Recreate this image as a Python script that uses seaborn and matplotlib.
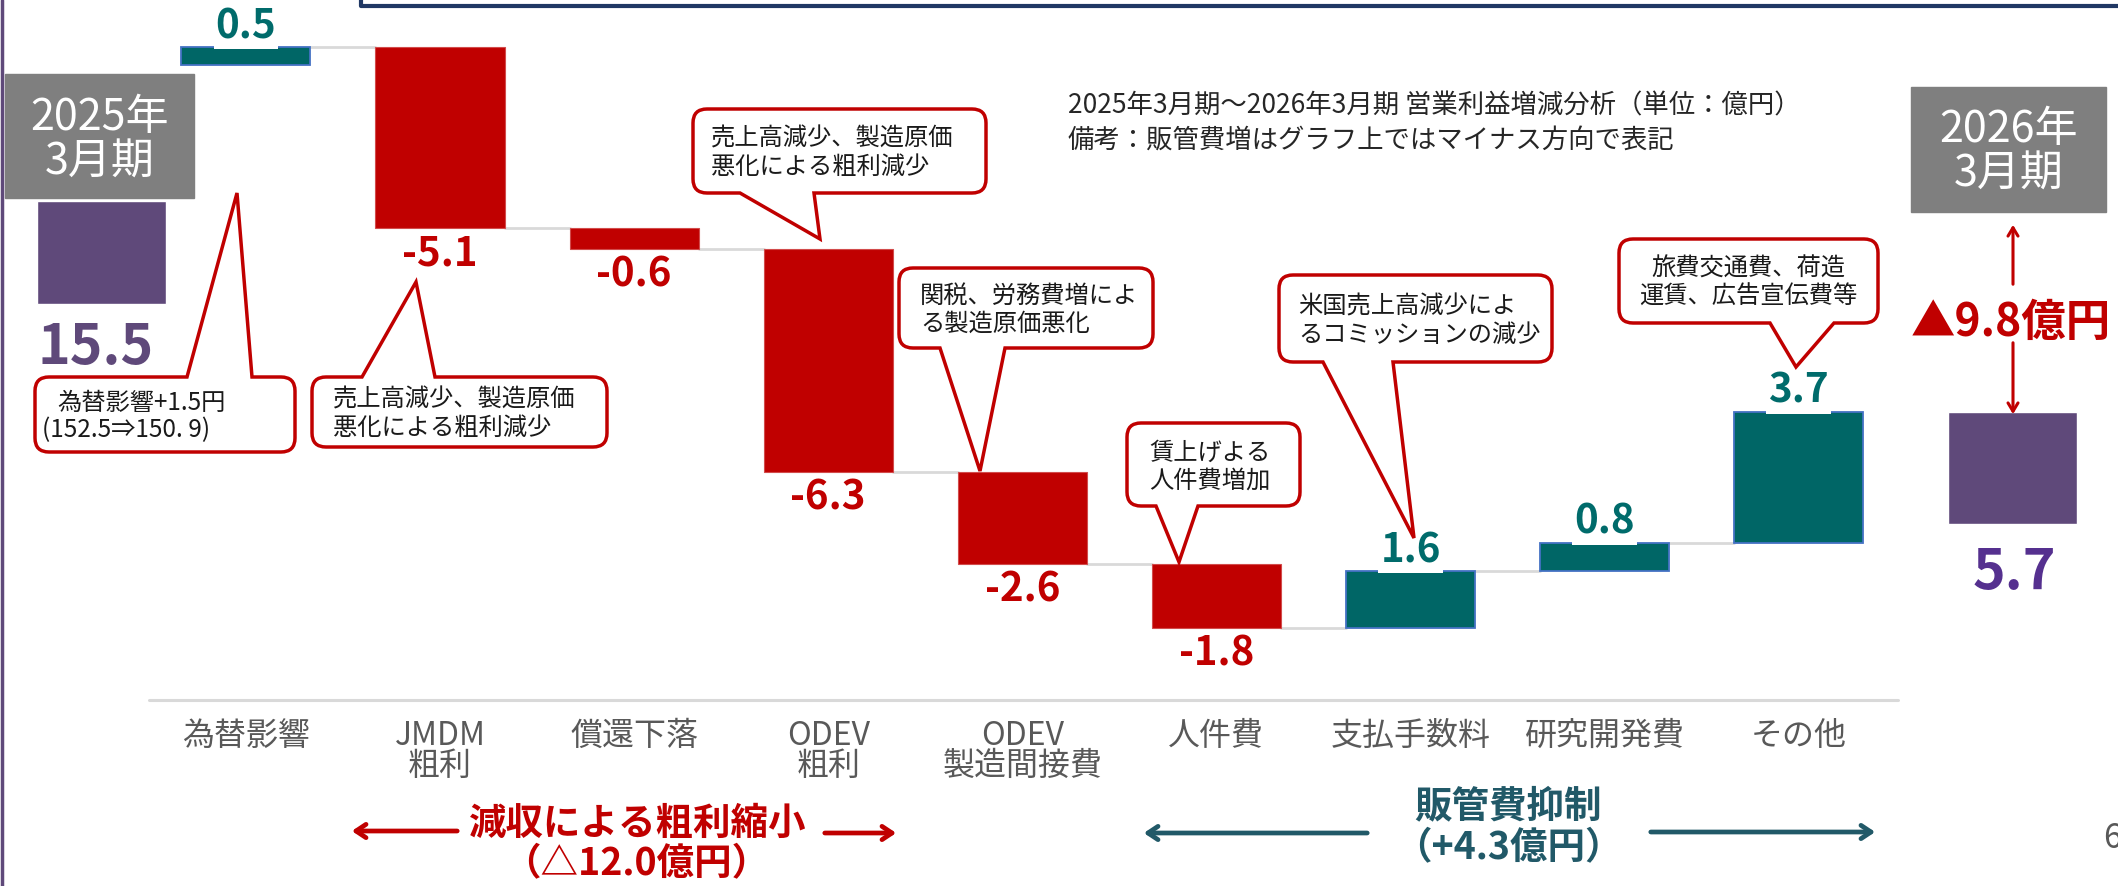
import matplotlib
matplotlib.use('Agg')
import matplotlib.pyplot as plt
from matplotlib.path import Path
from matplotlib.patches import PathPatch, Rectangle
import numpy as np
import pandas as pd
import seaborn as sns

# --- data ---
categories = ['為替影響', 'JMDM\n粗利', '償還下落', 'ODEV\n粗利', 'ODEV\n製造間接費',
              '人件費', '支払手数料', '研究開発費', 'その他']
deltas = [0.5, -5.1, -0.6, -6.3, -2.6, -1.8, 1.6, 0.8, 3.7]
start_value = 15.5
end_value = 5.7
start_label = ['2025年', '3月期']
end_label = ['2026年', '3月期']
change_label = '▲9.8億円'
title_lines = ['2025年3月期～2026年3月期 営業利益増減分析（単位：億円）',
               '備考：販管費増はグラフ上ではマイナス方向で表記']
group_gross = ['減収による粗利縮小', '（△12.0億円）']
group_sga = ['販管費抑制', '（+4.3億円）']

# callouts: text lines, line x starts, box (x0, y0, x1, y1 in px), tail base (xa, xb), tip (px)
callouts = [
    (['為替影響+1.5円', '(152.5⇒150. 9)'], [57, 42], (35, 377, 295, 452), (187, 252), (237, 193), 'left'),
    (['売上高減少、製造原価', '悪化による粗利減少'], [333, 333], (312, 377, 607, 447), (362, 435), (416, 282), 'left'),
    (['売上高減少、製造原価', '悪化による粗利減少'], [711, 711], (693, 109, 986, 193), (740, 814), (820, 239), 'left'),
    (['関税、労務費増によ', 'る製造原価悪化'], [920, 920], (899, 268, 1153, 348), (940, 1005), (980, 471), 'left'),
    (['賃上げよる', '人件費増加'], [1149, 1149], (1127, 423, 1300, 506), (1156, 1198), (1179, 562), 'left'),
    (['米国売上高減少によ', 'るコミッションの減少'], [1298, 1298], (1279, 275, 1552, 362), (1323, 1393), (1414, 538), 'left'),
    (['旅費交通費、荷造', '運賃、広告宣伝費等'], [1748, 1748], (1619, 239, 1878, 323), (1770, 1834), (1796, 367), 'center'),
]

RED = '#C00000'
TEAL = '#006666'
TEAL_TXT = '#006B6B'
PURPLE = '#5F497A'
GRAY_BOX = '#7F7F7F'
NAVY_TEAL = '#215968'

sns.set_theme(style='white')
plt.rcParams['font.family'] = ['Noto Sans CJK JP', 'DejaVu Sans']

W, H = 2118, 886
fig = plt.figure(figsize=(W / 100, H / 100), dpi=100)
ax = fig.add_axes([0, 0, 1, 1])

levels = start_value + np.cumsum(deltas)
bottoms = np.concatenate([[start_value], levels[:-1]])
bar_w = 0.665

df = pd.DataFrame({'item': categories, 'delta': deltas})
colors = [TEAL if d > 0 else RED for d in deltas]
sns.barplot(data=df, x='item', y='delta', hue='item', palette=colors, width=bar_w,
            errorbar=None, legend=False, saturation=1, ax=ax)

# float each bar on the running total
for p, b, d in zip(ax.patches, bottoms, deltas):
    p.set_y(b)
    p.set_edgecolor('#4472C4' if d > 0 else '#D24B4B')
    p.set_linewidth(1.3 if d > 0 else 0.8)

# start / end stubs (axis is broken, shown as short boxes)
ax.bar(-0.744, 11.65 - 8.74, bottom=8.74, width=bar_w, color=PURPLE)
ax.bar(9.10, end_value - 2.53, bottom=2.53, width=bar_w, color=PURPLE)

# connectors
for k in range(len(deltas) - 1):
    ax.plot([k + bar_w / 2, k + 1 - bar_w / 2], [levels[k]] * 2, color='#D9D9D9', lw=2, zorder=0.5)

# baseline
ax.plot([-0.5, 8.51], [-2.45, -2.45], color='#D9D9D9', lw=2.2)

# value labels
for k, (d, lv) in enumerate(zip(deltas, levels)):
    if d > 0:
        ax.text(k, lv + 0.57, f'{d:.1f}', ha='center', va='center', fontsize=29, fontweight='bold',
                color=TEAL_TXT, zorder=5,
                bbox=dict(boxstyle='square,pad=0.05', fc='white', ec='none'))
    else:
        ax.text(k, lv - 0.74, f'{d:.1f}', ha='center', va='center', fontsize=29, fontweight='bold',
                color=RED, zorder=5,
                bbox=dict(boxstyle='square,pad=0.05', fc='white', ec='none'))

# category labels
for k, c in enumerate(categories):
    ax.text(k, -3.0, c, ha='center', va='top', fontsize=23, color='#595959', linespacing=0.95)

ax.set_xlim(-1.2669, 9.6447)
ax.set_ylim(-7.701, 17.3277)
ax.axis('off')

# --- overlay in pixel coordinates for annotations ---
ov = fig.add_axes([0, 0, 1, 1])
ov.set_xlim(0, W)
ov.set_ylim(H, 0)
ov.axis('off')
ov.patch.set_alpha(0)

# frame pieces
ov.plot([1.5, 1.5], [0, H], color=PURPLE, lw=2.5)
ov.plot([361, 361, W + 5], [-5, 6, 6], color='#203864', lw=3)

# year boxes
ov.add_patch(Rectangle((5, 74), 189, 124, color=GRAY_BOX))
ov.text(100, 118, start_label[0], ha='center', va='center', fontsize=31, color='white')
ov.text(100, 163, start_label[1], ha='center', va='center', fontsize=31, color='white')
ov.add_patch(Rectangle((1911, 87), 195, 125, color=GRAY_BOX))
ov.text(2009, 130, end_label[0], ha='center', va='center', fontsize=31, color='white')
ov.text(2009, 175, end_label[1], ha='center', va='center', fontsize=31, color='white')

ov.text(96, 348, f'{start_value:.1f}', ha='center', va='center', fontsize=40, fontweight='bold', color=PURPLE)
ov.text(2014, 573, f'{end_value:.1f}', ha='center', va='center', fontsize=40, fontweight='bold', color='#55308F')

# change arrow
ov.annotate('', xy=(2013, 222), xytext=(2013, 287),
            arrowprops=dict(arrowstyle='->,head_length=0.5,head_width=0.3', lw=2.2, color=RED))
ov.annotate('', xy=(2013, 417), xytext=(2013, 340),
            arrowprops=dict(arrowstyle='->,head_length=0.5,head_width=0.3', lw=2.2, color=RED))
ov.text(2011, 323, change_label, ha='center', va='center', fontsize=32, fontweight='bold', color=RED)

# title
ov.text(1068, 106, title_lines[0], ha='left', va='center', fontsize=19, color='#262626')
ov.text(1068, 140, title_lines[1], ha='left', va='center', fontsize=19, color='#262626')


def bubble(lines, xs, box, base, tip, ha, r=14):
    x0, y0, x1, y1 = box
    a, b = base
    L, C = Path.LINETO, Path.CURVE3
    verts, codes = [(x0 + r, y0)], [Path.MOVETO]
    if tip[1] < y0:
        verts += [(a, y0), tip, (b, y0)]
        codes += [L, L, L]
    verts += [(x1 - r, y0), (x1, y0), (x1, y0 + r), (x1, y1 - r), (x1, y1), (x1 - r, y1)]
    codes += [L, C, C, L, C, C]
    if tip[1] > y1:
        verts += [(b, y1), tip, (a, y1)]
        codes += [L, L, L]
    verts += [(x0 + r, y1), (x0, y1), (x0, y1 - r), (x0, y0 + r), (x0, y0), (x0 + r, y0), (x0 + r, y0)]
    codes += [L, C, C, L, C, C, Path.CLOSEPOLY]
    ov.add_patch(PathPatch(Path(verts, codes), fc='white', ec=RED, lw=2.5, joinstyle='miter', zorder=4))
    cy = (y0 + y1) / 2 + 2
    for j, (t, tx) in enumerate(zip(lines, xs)):
        ov.text(tx, cy + (j - 0.5) * 28, t, ha=ha, va='center', fontsize=17.5, color='#1A1A1A', zorder=5)


for lines, xs, box, base, tip, ha in callouts:
    bubble(lines, xs, box, base, tip, ha)

# group labels with arrows
ov.text(638, 823, group_gross[0], ha='center', va='center', fontsize=27, fontweight='bold', color=RED)
ov.text(636, 864, group_gross[1], ha='center', va='center', fontsize=27, fontweight='bold', color=RED)
arrow_kw = dict(arrowstyle='->,head_length=0.6,head_width=0.4', lw=3.4)
ov.annotate('', xy=(349, 831), xytext=(460, 831), arrowprops=dict(color=RED, **arrow_kw))
ov.annotate('', xy=(899, 833), xytext=(822, 833), arrowprops=dict(color=RED, **arrow_kw))

ov.text(1508, 806, group_sga[0], ha='center', va='center', fontsize=27, fontweight='bold', color=NAVY_TEAL)
ov.text(1508, 848, group_sga[1], ha='center', va='center', fontsize=27, fontweight='bold', color=NAVY_TEAL)
ov.annotate('', xy=(1141, 833), xytext=(1370, 833), arrowprops=dict(color=NAVY_TEAL, **arrow_kw))
ov.annotate('', xy=(1878, 832), xytext=(1648, 832), arrowprops=dict(color=NAVY_TEAL, **arrow_kw))

ov.text(2103, 838, '6', ha='left', va='center', fontsize=24, color='#595959')

fig.savefig('out.png', dpi=100)
plt.close(fig)
